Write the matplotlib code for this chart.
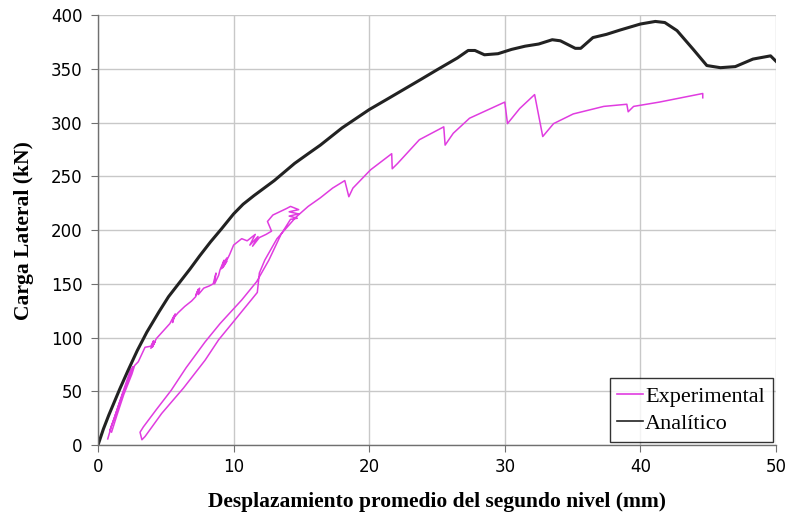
import matplotlib
matplotlib.use('Agg')
import matplotlib.pyplot as plt

# Analytic curve
ana_x = [0, 0.4, 0.8, 1.2, 1.6, 2.2, 2.9, 3.6, 4.5, 5.2, 6.0, 6.8, 7.5, 8.3, 9.1, 10.0,
         10.7, 11.5, 13.0, 14.5, 15.5, 16.4, 18.0, 20.0, 21.5, 23.8, 25.0, 26.5, 27.3,
         27.8, 28.5, 29.5, 30.5, 31.5, 32.5, 33.5, 34.1, 35.2, 35.6, 36.5, 37.5, 38.5,
         40.0, 41.1, 41.8, 42.7, 43.9, 44.9, 45.9, 47.0, 48.3, 49.6, 50.0]
ana_y = [0, 15, 28, 40, 52, 69, 88, 105, 124, 138, 151, 164, 176, 189, 201, 215,
         224, 232, 246, 262, 271, 279, 295, 312, 323, 340, 349, 360, 367,
         367, 363, 364, 368, 371, 373, 377, 376, 369, 369, 379, 382, 386,
         391.6, 394, 393, 385.5, 368, 353, 351, 352, 359, 362, 357]

# Experimental curve (loading, unloading, reloading)
exp_x = [0.72, 1.0, 1.6, 2.2, 2.6, 2.4, 1.8, 1.2, 0.88, 1.0, 1.4, 1.9, 2.5, 2.7, 2.97,
         3.47, 3.9, 4.1, 3.9, 4.2, 4.0, 4.3, 4.8, 5.3, 5.6, 5.5, 5.7, 5.5, 5.9, 6.4,
         6.9, 7.2, 7.4, 7.2, 7.5, 7.4, 7.8, 8.2, 8.5, 8.7, 8.6, 8.9, 9.0, 9.3, 9.1,
         9.5, 9.2, 9.5, 9.3, 9.7, 10.0, 10.6, 11.0, 11.6, 11.2, 11.8, 11.4, 11.9, 12.4,
         12.8, 12.5, 12.9, 13.9, 14.2, 14.8, 14.1, 14.8, 14.1, 14.7, 14.2,
         13.5, 12.6, 11.7, 10.6, 9.0, 7.9, 6.5, 5.4, 4.3, 3.35, 3.1, 3.24,
         3.47, 4.7, 6.3, 7.9, 8.9, 10.2, 11.3, 11.75, 11.9, 12.3, 13.2, 14.6, 15.5,
         16.4, 17.3, 18.2, 18.5, 18.8, 20.1, 21.66, 21.7, 22.1, 23.7, 25.5, 25.6, 26.2,
         27.4, 30.0, 30.2, 31.1, 32.2, 32.8, 33.6, 35.05, 37.3, 39.0, 39.1, 39.5, 41.4,
         44.6, 44.6]
exp_y = [5.8, 18, 40, 60, 73, 70, 48, 25, 14, 12, 28, 47, 66, 74, 77.5,
         91, 92, 97, 90, 96, 91, 99, 106, 113, 120, 114, 122, 117, 123, 129,
         134, 138, 145, 139, 146, 140, 146, 148, 150, 160, 150, 158, 163, 172, 164,
         171, 165, 174, 167, 177, 186, 192, 190, 196, 186, 194, 185, 193, 196,
         199, 208, 214, 220, 222, 219, 217, 215, 213, 211, 210,
         196, 172, 152, 135, 113, 96, 72, 51, 33, 17, 12, 5,
         8, 29.5, 53, 79, 98, 118, 135, 142, 160, 172, 192, 212, 222,
         230, 239, 246, 231, 239, 256, 271, 257, 262, 284, 296, 279, 290,
         304, 319, 299, 313, 326, 287, 299, 308, 315, 317, 310, 315, 319,
         327, 323]

x_ticks = [0, 10, 20, 30, 40, 50]
y_ticks = [0, 50, 100, 150, 200, 250, 300, 350, 400]

fig = plt.figure(figsize=(7.87, 5.17), dpi=100)
ax = fig.add_axes([0.1245, 0.139, 0.8615, 0.832])

ax.plot(exp_x, exp_y, color='#e03ce0', linewidth=1.1, label='Experimental')
ax.plot(ana_x, ana_y, color='#222222', linewidth=2.2, label='Analítico')

ax.set_xlim(0, 50)
ax.set_ylim(0, 400)
ax.set_xticks(x_ticks)
ax.set_yticks(y_ticks)
ax.grid(True, color='#c8c8c8', linewidth=1.0)
ax.set_axisbelow(True)

for s in ['top', 'right']:
    ax.spines[s].set_visible(False)
for s in ['left', 'bottom']:
    ax.spines[s].set_color('#707070')
    ax.spines[s].set_linewidth(1.0)

ax.tick_params(direction='out', length=5, color='#707070', labelsize=12)
ax.tick_params(axis='y', pad=6)
ax.tick_params(axis='x', pad=4)
for lab in ax.get_xticklabels() + ax.get_yticklabels():
    lab.set_family('DejaVu Sans')

ax.set_xlabel('Desplazamiento promedio del segundo nivel (mm)', family='Liberation Serif',
              fontweight='bold', fontsize=15.5, labelpad=12)
ax.set_ylabel('Carga Lateral (kN)', family='Liberation Serif',
              fontweight='bold', fontsize=15.5, labelpad=12)

leg = ax.legend(loc='lower right', prop={'family': 'Liberation Serif', 'size': 16},
                frameon=True, fancybox=False, handlelength=1.15, handletextpad=0.1,
                borderaxespad=0.15, labelspacing=0.3, borderpad=0.35)
leg.get_frame().set_edgecolor('black')
leg.get_frame().set_linewidth(1.0)
for line in leg.get_lines():
    line.set_linewidth(1.2)

fig.savefig('out.png', dpi=100)
